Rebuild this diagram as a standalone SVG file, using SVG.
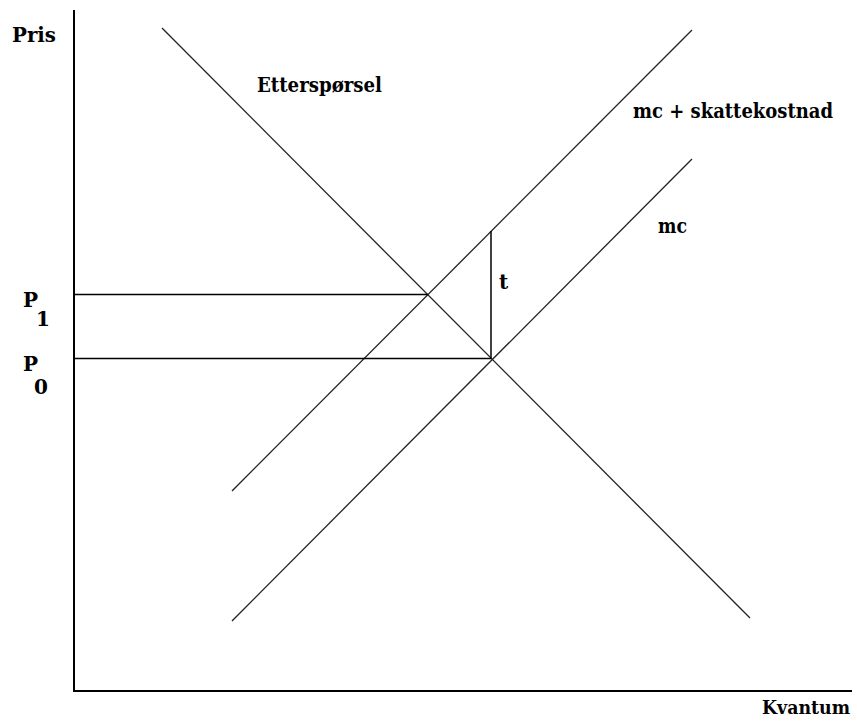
<svg xmlns="http://www.w3.org/2000/svg" width="857" height="724" viewBox="0 0 857 724">
<style>
.lbl{font-family:"DejaVu Serif","Liberation Serif",serif;font-weight:bold;font-size:20px;fill:#000}
.axis{stroke:#000;stroke-width:2;fill:none}
.curve{stroke:#222;stroke-width:1.3;fill:none}
.guide{stroke:#000;stroke-width:1.5;fill:none}
</style>
<rect width="857" height="724" fill="#fff"/>
<g id="axes">
<line class="axis" x1="74" y1="10" x2="74" y2="691"/>
<line class="axis" x1="73" y1="691" x2="852" y2="691"/>
</g>
<g id="connectors">
<line id="demand" class="curve" x1="162" y1="28" x2="750" y2="618"/>
<line id="supply-tax" class="curve" x1="232" y1="491" x2="692" y2="30"/>
<line id="supply-mc" class="curve" x1="232" y1="621" x2="692" y2="159"/>
<line id="p1-line" class="guide" x1="74" y1="294.5" x2="428" y2="294.5"/>
<line id="p0-line" class="guide" x1="74" y1="358.5" x2="491" y2="358.5"/>
<line id="t-line" class="guide" x1="491" y1="231" x2="491" y2="358.5"/>
</g>
<g id="labels">
<text class="lbl" x="12" y="42" textLength="44" lengthAdjust="spacingAndGlyphs">Pris</text>
<text class="lbl" x="257" y="92" textLength="125" lengthAdjust="spacingAndGlyphs">Etterspørsel</text>
<text class="lbl" x="633" y="118" textLength="200" lengthAdjust="spacingAndGlyphs">mc + skattekostnad</text>
<text class="lbl" x="658" y="233" textLength="29" lengthAdjust="spacingAndGlyphs">mc</text>
<text class="lbl" x="499" y="289">t</text>
<text class="lbl" x="23" y="307">P</text>
<text class="lbl" x="36" y="326">1</text>
<text class="lbl" x="23" y="371">P</text>
<text class="lbl" x="34" y="394">0</text>
<text class="lbl" x="762" y="714" style="font-size:18px" textLength="88" lengthAdjust="spacingAndGlyphs">Kvantum</text>
</g>
</svg>
